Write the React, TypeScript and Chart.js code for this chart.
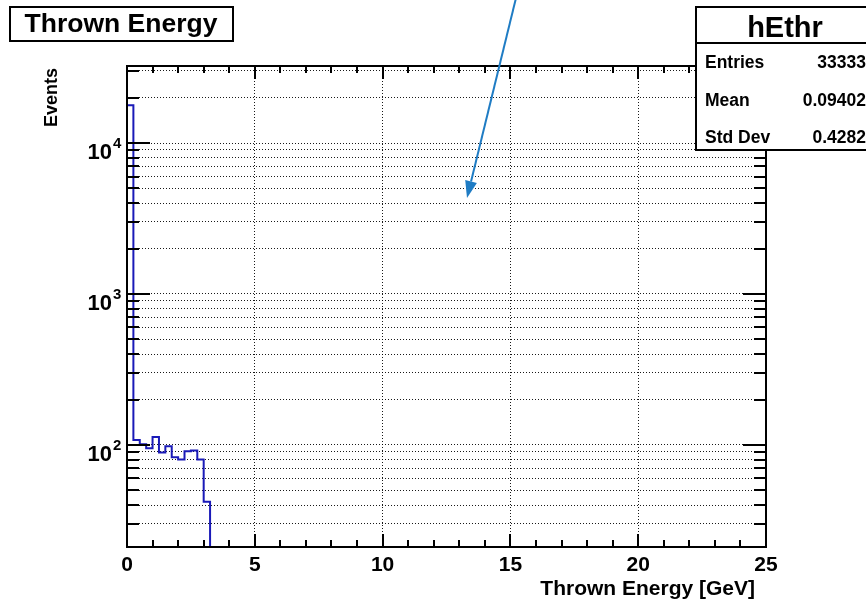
import React, { useEffect, useRef } from "react";
import { Chart, registerables } from "chart.js";

Chart.register(...registerables);

// Histogram bins (low edges, GeV) and counts
const binLowEdges = [0, 0.25, 0.5, 0.75, 1.0, 1.25, 1.5, 1.75, 2.0, 2.25, 2.5, 2.75, 3.0];
const binUpperEnd = 3.25;
const counts = [17800, 108, 101, 95, 113, 89, 98, 83, 80, 91, 92, 80, 42];

const xMin = 0;
const xMax = 25;
const yMin = 21.1;
const yMax = 32360;

const xTickValues = [0, 1, 2, 3, 4, 5, 6, 7, 8, 9, 10, 11, 12, 13, 14, 15, 16, 17, 18, 19, 20, 21, 22, 23, 24, 25];
const xLabelValues = [0, 5, 10, 15, 20, 25];
const yTickValues = [
  30, 40, 50, 60, 70, 80, 90,
  100, 200, 300, 400, 500, 600, 700, 800, 900,
  1000, 2000, 3000, 4000, 5000, 6000, 7000, 8000, 9000,
  10000, 20000, 30000,
];
const yLabelExponents = [2, 3, 4];

const titleText = "Thrown Energy";
const xTitle = "Thrown Energy [GeV]";
const yTitle = "Events";
const statsName = "hEthr";
const statsLabels = ["Entries", "Mean", "Std Dev"];
const statsValues = ["33333", "0.09402", "0.4282"];

const FONT = '"Liberation Sans", Arial, Helvetica, sans-serif';
const HIST_COLOR = "#1a1ab8";

const decorPlugin = {
  id: "rootDecor",
  afterDraw(chart: any) {
    const ctx = chart.ctx as CanvasRenderingContext2D;
    const { left, right, top, bottom } = chart.chartArea;
    const xs = chart.scales.x;
    const ys = chart.scales.y;
    ctx.save();
    ctx.strokeStyle = "#000";
    ctx.fillStyle = "#000";
    ctx.setLineDash([]);

    // ticks (inward, all four sides)
    ctx.lineWidth = 2;
    for (const v of xTickValues) {
      const px = Math.round(xs.getPixelForValue(v));
      const len = v % 5 === 0 ? 13 : 7;
      ctx.beginPath();
      ctx.moveTo(px, bottom);
      ctx.lineTo(px, bottom - len);
      ctx.moveTo(px, top);
      ctx.lineTo(px, top + len);
      ctx.stroke();
    }
    for (const v of yTickValues) {
      const py = Math.round(ys.getPixelForValue(v));
      const isMajor = Math.abs(Math.log10(v) - Math.round(Math.log10(v))) < 1e-9;
      const len = isMajor ? 23 : 12;
      ctx.beginPath();
      ctx.moveTo(left, py);
      ctx.lineTo(left + len, py);
      ctx.moveTo(right, py);
      ctx.lineTo(right - len, py);
      ctx.stroke();
    }

    // frame
    ctx.lineWidth = 2;
    ctx.strokeRect(left, top, right - left, bottom - top);

    // x tick labels
    ctx.font = `bold 21px ${FONT}`;
    ctx.textAlign = "center";
    ctx.textBaseline = "alphabetic";
    for (const v of xLabelValues) {
      const px = xs.getPixelForValue(v);
      ctx.fillText(String(v), px, bottom + 24);
    }

    // y tick labels 10^n
    for (const e of yLabelExponents) {
      const py = ys.getPixelForValue(Math.pow(10, e));
      ctx.font = `bold 22px ${FONT}`;
      ctx.textAlign = "right";
      ctx.fillText("10", 112, py + 16);
      ctx.font = `bold 15px ${FONT}`;
      ctx.textAlign = "left";
      ctx.fillText(String(e), 113, py + 5);
    }

    // axis titles
    ctx.font = `bold 21px ${FONT}`;
    ctx.textAlign = "right";
    ctx.fillText(xTitle, 755, 595);
    ctx.save();
    ctx.translate(57, 68);
    ctx.rotate(-Math.PI / 2);
    ctx.textAlign = "right";
    ctx.textBaseline = "alphabetic";
    ctx.font = `bold 18px ${FONT}`;
    ctx.fillText(yTitle, 0, 0);
    ctx.restore();

    // title box
    ctx.fillStyle = "#fff";
    ctx.fillRect(10, 7, 223, 34);
    ctx.strokeRect(10, 7, 223, 34);
    ctx.fillStyle = "#000";
    ctx.font = `bold 26.5px ${FONT}`;
    ctx.textAlign = "center";
    ctx.fillText(titleText, 121, 32);

    // stats box
    ctx.fillStyle = "#fff";
    ctx.fillRect(696, 7, 180, 143);
    ctx.strokeRect(696, 7, 180, 143);
    ctx.beginPath();
    ctx.moveTo(696, 43);
    ctx.lineTo(870, 43);
    ctx.stroke();
    ctx.fillStyle = "#000";
    ctx.font = `bold 29px ${FONT}`;
    ctx.textAlign = "center";
    ctx.fillText(statsName, 785, 37);
    ctx.font = `bold 17.5px ${FONT}`;
    const rowY = [68, 106, 143];
    statsLabels.forEach((lab, i) => {
      ctx.textAlign = "left";
      ctx.fillText(lab, 705, rowY[i]);
      ctx.textAlign = "right";
      ctx.fillText(statsValues[i], 866, rowY[i]);
    });

    // annotation arrow
    const x0 = 516, y0 = -2, x1 = 467, y1 = 198;
    const ang = Math.atan2(y1 - y0, x1 - x0);
    const headLen = 17, headW = 6;
    const bx = x1 - headLen * Math.cos(ang);
    const by = y1 - headLen * Math.sin(ang);
    ctx.strokeStyle = "#1f7cc4";
    ctx.fillStyle = "#1f7cc4";
    ctx.lineWidth = 2;
    ctx.beginPath();
    ctx.moveTo(x0, y0);
    ctx.lineTo(bx, by);
    ctx.stroke();
    ctx.beginPath();
    ctx.moveTo(x1, y1);
    ctx.lineTo(bx + headW * Math.sin(ang), by - headW * Math.cos(ang));
    ctx.lineTo(bx - headW * Math.sin(ang), by + headW * Math.cos(ang));
    ctx.closePath();
    ctx.fill();

    ctx.restore();
  },
};

export default function App() {
  const canvasRef = useRef<HTMLCanvasElement | null>(null);

  useEffect(() => {
    const canvas = canvasRef.current;
    if (!canvas) return;
    const points: { x: number; y: number }[] = [{ x: binLowEdges[0], y: 1 }];
    binLowEdges.forEach((edge, i) => points.push({ x: edge, y: counts[i] }));
    points.push({ x: binUpperEnd, y: 1 });

    const chart = new Chart(canvas, {
      type: "line",
      data: {
        datasets: [
          {
            data: points,
            borderColor: HIST_COLOR,
            borderWidth: 2,
            pointRadius: 0,
            fill: false,
            stepped: "before",
            tension: 0,
          },
        ],
      },
      options: {
        responsive: false,
        maintainAspectRatio: false,
        animation: false,
        events: [],
        layout: { padding: { left: 127, right: 100, top: 66, bottom: 52 } },
        plugins: { legend: { display: false }, tooltip: { enabled: false }, title: { display: false } },
        scales: {
          x: {
            type: "linear",
            min: xMin,
            max: xMax,
            afterBuildTicks: (scale: any) => {
              scale.ticks = xTickValues.map((v) => ({ value: v }));
            },
            ticks: { display: false },
            grid: {
              drawTicks: false,
              lineWidth: 1,
              color: (c: any) => {
                const v = c.tick ? c.tick.value : 0;
                return v % 5 === 0 && v !== xMin && v !== xMax ? "rgba(0,0,0,0.9)" : "rgba(0,0,0,0)";
              },
            },
            border: { display: false, dash: [1, 2] },
          },
          y: {
            type: "logarithmic",
            min: yMin,
            max: yMax,
            afterBuildTicks: (scale: any) => {
              scale.ticks = yTickValues.map((v) => ({ value: v }));
            },
            ticks: { display: false },
            grid: { drawTicks: false, lineWidth: 1, color: "rgba(0,0,0,0.9)" },
            border: { display: false, dash: [1, 2] },
          },
        },
      },
      plugins: [decorPlugin],
    });
    return () => chart.destroy();
  }, []);

  return (
    <div style={{ position: "absolute", left: 0, top: 0, width: 866, height: 599, background: "#fff" }}>
      <canvas ref={canvasRef} width={866} height={599} style={{ display: "block" }} />
    </div>
  );
}
